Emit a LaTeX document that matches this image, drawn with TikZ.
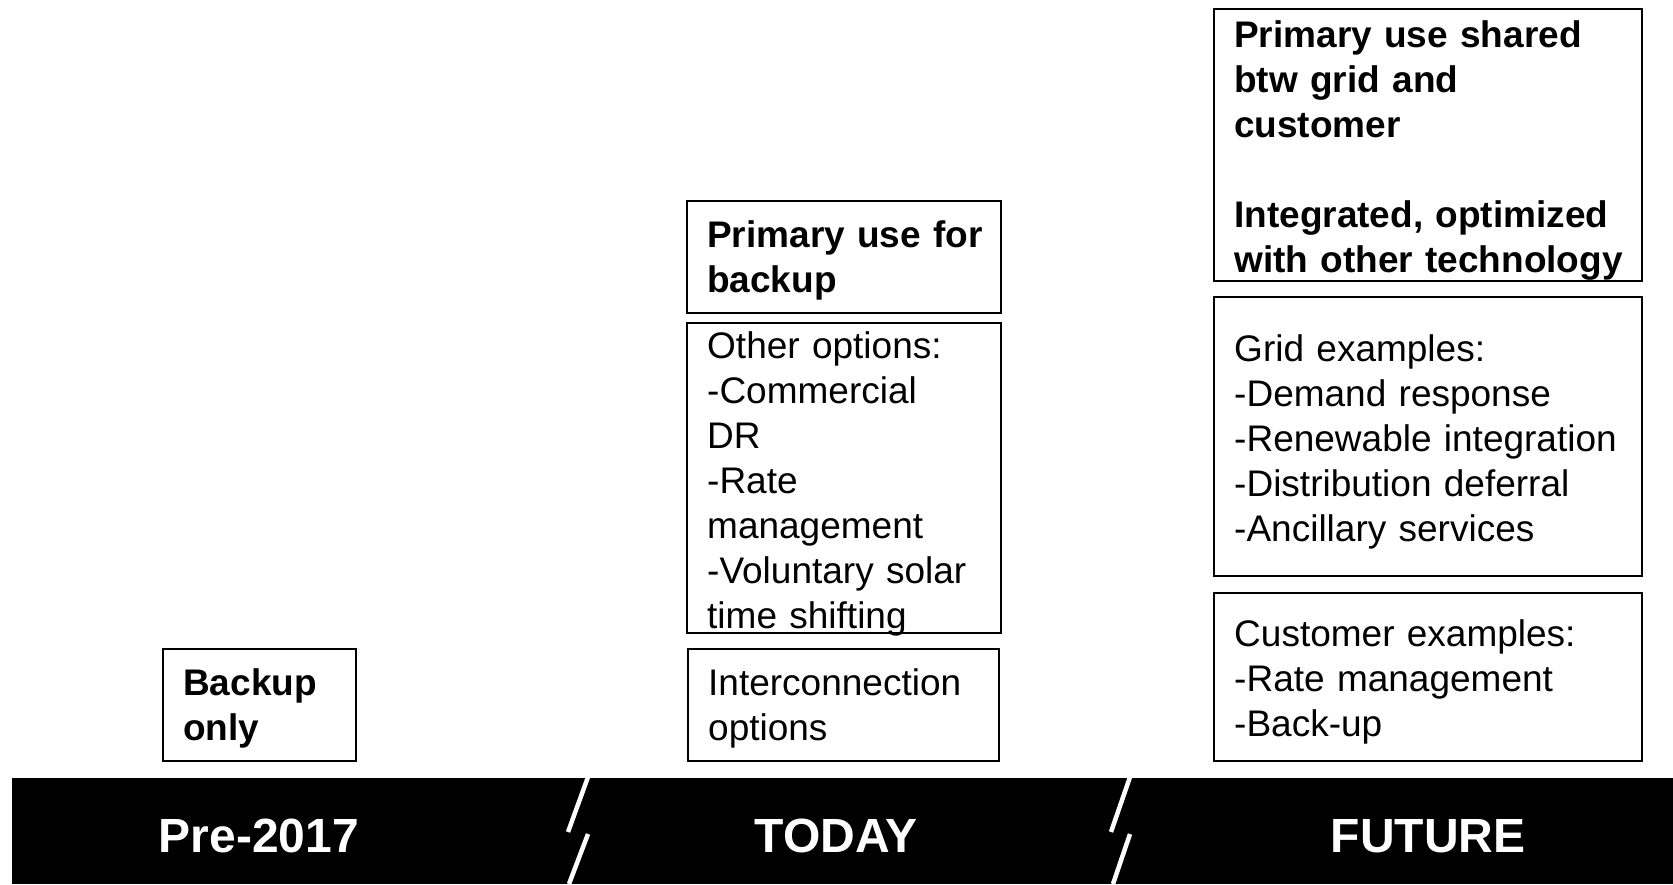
\documentclass[tikz,border=0pt]{standalone}
\usepackage{fontspec}
\setmainfont{Liberation Sans}
\begin{document}
\begin{tikzpicture}[x=1pt,y=-1pt,
  frame/.style={draw=black, line width=2pt, inner sep=0pt, outer sep=0pt, anchor=north west},
  txt/.style={anchor=base west, align=left, inner sep=0pt, text width=480pt, font=\fontsize{37}{45}\selectfont},
  btxt/.style={txt, font=\fontsize{37}{45}\selectfont\bfseries},
  barlabel/.style={text=white, inner sep=0pt, font=\fontsize{48}{52}\selectfont\bfseries},
  breakline/.style={draw=white, line width=4.5pt}]
\useasboundingbox[fill=white] (0,0) rectangle (1673,884);
% black timeline bar
\node[fill=black, inner sep=0pt, outer sep=0pt, anchor=north west, minimum width=1661pt, minimum height=106pt] (bar) at (12,778) {};
\draw[breakline] (588,777) -- (568,832);
\draw[breakline] (588,834) -- (569,884);
\draw[breakline] (1130,777) -- (1111,832);
\draw[breakline] (1130,834) -- (1113,884);
\node[barlabel] (pre) at (259,836) {Pre-2017};
\node[barlabel] (today) at (836,836) {TODAY};
\node[barlabel] (future) at (1428,836) {FUTURE};
% Pre-2017 column
\node[frame, minimum width=193pt, minimum height=112pt] (b0) at (163,649) {};
\node[btxt] (b0t) at (183,695) {Backup\\only};
% TODAY column
\node[frame, minimum width=314pt, minimum height=112pt] (t1) at (687,201) {};
\node[btxt] (t1t) at (707,247) {Primary use for\\backup};
\node[frame, minimum width=314pt, minimum height=310pt] (t2) at (687,323) {};
\node[txt] (t2t) at (707,358) {Other options:\\-Commercial\\DR\\-Rate\\management\\-Voluntary solar\\time shifting};
\node[frame, minimum width=311pt, minimum height=112pt] (t3) at (688,649) {};
\node[txt] (t3t) at (708,695) {Interconnection\\options};
% FUTURE column
\node[frame, minimum width=428pt, minimum height=272pt] (f1) at (1214,9) {};
\node[btxt] (f1t) at (1234,47) {Primary use shared\\btw grid and\\customer\\[45pt]Integrated, optimized\\with other technology};
\node[frame, minimum width=428pt, minimum height=279pt] (f2) at (1214,297) {};
\node[txt] (f2t) at (1234,361) {Grid examples:\\-Demand response\\-Renewable integration\\-Distribution deferral\\-Ancillary services};
\node[frame, minimum width=428pt, minimum height=168pt] (f3) at (1214,593) {};
\node[txt] (f3t) at (1234,646) {Customer examples:\\-Rate management\\-Back-up};
\end{tikzpicture}
\end{document}
